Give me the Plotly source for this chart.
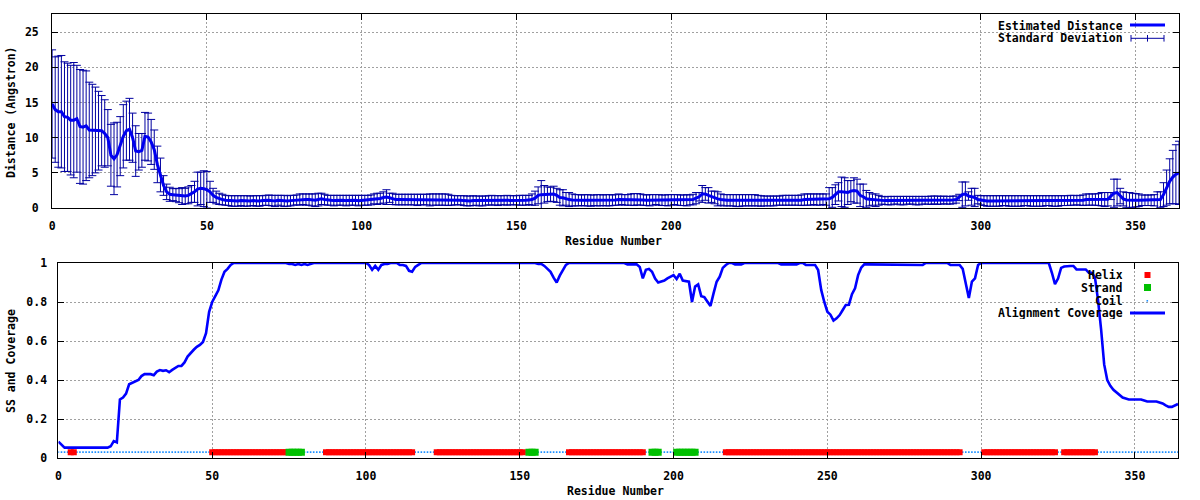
import plotly.graph_objects as go

# ---------------- data ----------------
# Estimated distance (Angstrom) per residue, residues 0..364
mean_distance = [
    14.8, 14.0, 13.7, 13.7, 13.0, 12.9, 12.5, 12.5, 12.7, 11.6,
    11.5, 11.7, 11.1, 11.1, 11.1, 11.0, 11.0, 10.6, 10.0, 7.5,
    7.0, 7.6, 8.8, 10.2, 11.0, 11.2, 10.0, 8.1, 8.0, 8.2,
    10.2, 10.1, 9.4, 8.3, 6.2, 4.7, 3.2, 2.3, 1.95, 1.9,
    1.85, 1.75, 1.7, 1.7, 1.8, 2.0, 2.3, 2.7, 2.8, 2.75,
    2.6, 2.3, 1.8, 1.5, 1.3, 1.2, 1.1, 1.05, 1.0, 1.0,
    1.0, 1.05, 1.0, 1.0, 1.0, 1.05, 1.0, 1.0, 1.05, 1.1,
    1.1, 1.05, 1.0, 1.1, 1.05, 1.0, 1.0, 1.05, 1.1, 1.15,
    1.2, 1.25, 1.2, 1.2, 1.15, 1.1, 1.2, 1.3, 1.2, 1.1,
    1.1, 1.05, 1.1, 1.1, 1.1, 1.05, 1.1, 1.1, 1.1, 1.05,
    1.1, 1.1, 1.1, 1.15, 1.3, 1.3, 1.35, 1.5, 1.55, 1.45,
    1.3, 1.2, 1.2, 1.2, 1.2, 1.2, 1.2, 1.2, 1.15, 1.2,
    1.2, 1.2, 1.15, 1.2, 1.2, 1.2, 1.2, 1.2, 1.15, 1.1,
    1.1, 1.1, 1.1, 1.05, 1.0, 1.0, 1.05, 1.05, 1.0, 1.0,
    1.05, 1.1, 1.1, 1.1, 1.05, 1.1, 1.1, 1.1, 1.1, 1.1,
    1.1, 1.1, 1.1, 1.1, 1.15, 1.2, 1.4, 1.8, 1.9, 1.95,
    1.95, 1.95, 2.0, 1.8, 1.5, 1.45, 1.3, 1.2, 1.15, 1.1,
    1.1, 1.1, 1.1, 1.1, 1.05, 1.1, 1.1, 1.1, 1.1, 1.1,
    1.1, 1.1, 1.15, 1.2, 1.2, 1.15, 1.15, 1.2, 1.2, 1.25,
    1.2, 1.15, 1.1, 1.1, 1.15, 1.2, 1.15, 1.1, 1.1, 1.1,
    1.15, 1.2, 1.15, 1.1, 1.1, 1.1, 1.15, 1.2, 1.4, 1.6,
    2.0, 2.0, 1.8, 1.6, 1.5, 1.3, 1.2, 1.1, 1.1, 1.1,
    1.1, 1.05, 1.05, 1.1, 1.1, 1.1, 1.1, 1.1, 1.05, 1.0,
    1.0, 1.0, 1.0, 1.0, 1.05, 1.05, 1.1, 1.1, 1.1, 1.1,
    1.1, 1.1, 1.1, 1.2, 1.2, 1.2, 1.25, 1.2, 1.2, 1.25,
    1.2, 1.3, 1.5, 1.9, 2.3, 2.3, 2.2, 2.2, 2.4, 2.5,
    2.4, 1.8, 1.6, 1.3, 1.25, 1.2, 1.1, 1.1, 1.1, 1.05,
    1.05, 1.05, 1.1, 1.1, 1.05, 1.05, 1.1, 1.1, 1.1, 1.05,
    1.05, 1.1, 1.1, 1.1, 1.1, 1.15, 1.1, 1.1, 1.15, 1.1,
    1.1, 1.15, 1.2, 1.5, 1.9, 2.0, 1.7, 1.6, 1.5, 1.2,
    1.1, 1.05, 1.0, 1.0, 1.0, 1.0, 1.0, 1.05, 1.05, 1.0,
    1.0, 1.0, 1.0, 1.0, 1.05, 1.05, 1.0, 1.0, 1.0, 1.0,
    1.0, 1.05, 1.05, 1.0, 1.0, 1.0, 1.05, 1.05, 1.05, 1.1,
    1.1, 1.1, 1.1, 1.1, 1.2, 1.2, 1.2, 1.2, 1.2, 1.25,
    1.2, 1.25, 1.7, 2.1, 2.2, 1.7, 1.3, 1.15, 1.1, 1.1,
    1.1, 1.1, 1.1, 1.1, 1.1, 1.1, 1.1, 1.1, 1.2, 1.9,
    2.9, 3.8, 4.4, 4.8, 5.0,
]

# Standard deviation per residue
std_distance = [
    7.7, 7.5, 7.9, 8.0, 7.8, 7.7, 7.8, 8.2, 7.6, 8.1,
    8.1, 7.8, 6.8, 6.5, 6.1, 5.6, 5.0, 4.8, 4.0, 4.4,
    5.1, 4.6, 4.2, 4.5, 4.2, 4.4, 3.5, 3.6, 2.6, 2.4,
    3.4, 3.4, 3.2, 2.8, 2.6, 2.4, 1.4, 1.1, 1.0, 0.85,
    0.95, 1.0, 1.2, 1.1, 1.2, 1.2, 1.5, 2.4, 2.3, 2.55,
    2.6, 1.5, 1.0, 0.9, 0.8, 0.75, 0.7, 0.7, 0.75, 0.75,
    0.75, 0.7, 0.75, 0.75, 0.7, 0.7, 0.75, 0.75, 0.7, 0.7,
    0.75, 0.75, 0.8, 0.7, 0.75, 0.8, 0.75, 0.75, 0.7, 0.7,
    0.8, 0.75, 0.8, 0.8, 0.85, 0.9, 0.9, 0.8, 0.75, 0.7,
    0.7, 0.75, 0.7, 0.7, 0.7, 0.75, 0.7, 0.7, 0.7, 0.75,
    0.7, 0.7, 0.7, 0.7, 0.7, 0.8, 0.75, 0.8, 1.05, 0.65,
    0.8, 0.75, 0.75, 0.75, 0.75, 0.75, 0.75, 0.75, 0.8, 0.75,
    0.75, 0.75, 0.85, 0.8, 0.8, 0.8, 0.8, 0.8, 0.8, 0.7,
    0.65, 0.65, 0.65, 0.7, 0.7, 0.7, 0.7, 0.65, 0.7, 0.7,
    0.65, 0.65, 0.7, 0.65, 0.7, 0.65, 0.65, 0.7, 0.65, 0.65,
    0.65, 0.7, 0.7, 0.7, 0.65, 0.8, 1.0, 1.2, 2.0, 1.25,
    1.05, 1.0, 1.1, 1.0, 1.1, 1.15, 0.9, 1.0, 0.85, 0.8,
    0.8, 0.75, 0.8, 0.8, 0.8, 0.75, 0.8, 0.8, 0.75, 0.8,
    0.8, 0.75, 0.75, 0.8, 0.7, 0.75, 0.75, 0.8, 0.85, 0.8,
    0.8, 0.75, 0.75, 0.8, 0.75, 0.7, 0.75, 0.75, 0.75, 0.8,
    0.75, 0.7, 0.75, 0.75, 0.75, 0.8, 0.7, 0.75, 0.8, 0.6,
    1.2, 0.9, 1.1, 0.8, 0.9, 1.0, 0.8, 0.8, 0.8, 0.8,
    0.8, 0.85, 0.85, 0.8, 0.8, 0.8, 0.8, 0.8, 0.75, 0.75,
    0.7, 0.7, 0.7, 0.7, 0.65, 0.65, 0.7, 0.7, 0.7, 0.7,
    0.7, 0.7, 0.75, 0.8, 0.8, 0.8, 0.75, 0.8, 0.8, 0.75,
    0.8, 1.6, 1.4, 1.4, 1.3, 2.1, 2.1, 1.7, 1.5, 1.8,
    1.7, 1.6, 1.8, 1.2, 0.95, 0.8, 0.9, 0.7, 0.55, 0.55,
    0.6, 0.6, 0.55, 0.55, 0.6, 0.6, 0.55, 0.55, 0.55, 0.6,
    0.6, 0.55, 0.55, 0.55, 0.6, 0.55, 0.6, 0.55, 0.55, 0.55,
    0.55, 0.55, 0.5, 0.45, 1.8, 1.7, 0.6, 1.2, 1.3, 0.6,
    0.65, 0.7, 0.75, 0.75, 0.75, 0.75, 0.75, 0.7, 0.7, 0.75,
    0.75, 0.75, 0.75, 0.75, 0.7, 0.7, 0.75, 0.75, 0.75, 0.75,
    0.75, 0.7, 0.7, 0.75, 0.75, 0.75, 0.7, 0.7, 0.7, 0.7,
    0.7, 0.65, 0.7, 0.75, 0.8, 0.8, 0.8, 0.8, 0.85, 0.95,
    1.0, 0.95, 0.5, 2.0, 1.9, 1.1, 1.0, 1.05, 1.1, 1.0,
    0.95, 0.9, 0.75, 0.75, 0.75, 0.75, 0.8, 1.2, 1.1, 1.7,
    2.5, 3.2, 3.8, 4.2, 4.5,
]

# Alignment coverage per residue
coverage = [
    0.084, 0.07, 0.053, 0.053, 0.053, 0.053, 0.053, 0.053, 0.053, 0.053,
    0.053, 0.053, 0.053, 0.053, 0.053, 0.053, 0.053, 0.06, 0.087, 0.08,
    0.30, 0.31, 0.33, 0.378, 0.386, 0.39, 0.40, 0.42, 0.43, 0.43,
    0.43, 0.425, 0.443, 0.451, 0.447, 0.45, 0.44, 0.452, 0.46, 0.472,
    0.472, 0.49, 0.52, 0.54, 0.555, 0.57, 0.58, 0.595, 0.64, 0.75,
    0.80, 0.83, 0.86, 0.915, 0.955, 0.97, 0.99, 1.0, 1.0, 1.0,
    1.0, 1.0, 1.0, 1.0, 1.0, 1.0, 1.0, 1.0, 1.0, 1.0,
    1.0, 1.0, 1.0, 1.0, 1.0, 0.995, 0.995, 0.99, 0.995, 0.99,
    0.995, 0.99, 0.995, 1.0, 1.0, 1.0, 1.0, 1.0, 1.0, 1.0,
    1.0, 1.0, 1.0, 1.0, 1.0, 1.0, 1.0, 1.0, 1.0, 1.0,
    1.0, 0.99, 0.965, 0.985, 0.965, 0.99, 0.995, 0.995, 1.0, 1.0,
    1.0, 0.99, 0.99, 0.985, 0.96, 0.955, 0.98, 0.99, 1.0, 1.0,
    1.0, 1.0, 1.0, 1.0, 1.0, 1.0, 1.0, 1.0, 1.0, 1.0,
    1.0, 1.0, 1.0, 1.0, 1.0, 1.0, 1.0, 1.0, 1.0, 1.0,
    1.0, 1.0, 1.0, 1.0, 1.0, 1.0, 1.0, 1.0, 1.0, 1.0,
    1.0, 1.0, 1.0, 1.0, 1.0, 1.0, 0.995, 0.995, 0.985, 0.97,
    0.955, 0.925, 0.90, 0.935, 0.96, 0.99, 1.0, 1.0, 1.0, 1.0,
    1.0, 1.0, 1.0, 1.0, 1.0, 1.0, 1.0, 1.0, 1.0, 1.0,
    1.0, 1.0, 1.0, 1.0, 1.0, 0.993, 0.993, 0.993, 0.993, 0.98,
    0.921, 0.965, 0.97, 0.955, 0.92, 0.90, 0.905, 0.91, 0.921, 0.928,
    0.938, 0.918, 0.945, 0.91, 0.905, 0.904, 0.80, 0.879, 0.89, 0.83,
    0.825, 0.80, 0.78, 0.844, 0.904, 0.93, 0.975, 0.99, 1.0, 1.0,
    0.993, 0.993, 0.993, 1.0, 1.0, 1.0, 1.0, 1.0, 1.0, 1.0,
    1.0, 1.0, 1.0, 1.0, 1.0, 0.993, 0.993, 0.993, 0.993, 0.993,
    0.993, 1.0, 1.0, 0.99, 0.99, 0.99, 0.99, 0.964, 0.862, 0.80,
    0.75, 0.735, 0.705, 0.716, 0.733, 0.759, 0.785, 0.786, 0.84, 0.87,
    0.938, 0.976, 0.993, 0.993, 0.993, 0.993, 0.993, 0.993, 0.993, 0.993,
    0.993, 0.99, 0.99, 0.99, 0.99, 0.99, 0.99, 0.99, 0.99, 0.99,
    0.99, 0.99, 1.0, 1.0, 1.0, 1.0, 1.0, 1.0, 1.0, 1.0,
    0.99, 0.99, 0.99, 0.99, 0.97, 0.887, 0.82, 0.905, 0.921, 0.99,
    1.0, 1.0, 1.0, 1.0, 1.0, 1.0, 1.0, 1.0, 1.0, 1.0,
    1.0, 1.0, 1.0, 1.0, 1.0, 1.0, 1.0, 1.0, 1.0, 1.0,
    1.0, 1.0, 1.0, 0.95, 0.892, 0.92, 0.975, 0.982, 0.985, 0.985,
    0.985, 0.967, 0.967, 0.967, 0.967, 0.95, 0.95, 0.926, 0.81, 0.66,
    0.48, 0.40, 0.37, 0.35, 0.335, 0.32, 0.31, 0.305, 0.30, 0.30,
    0.30, 0.30, 0.30, 0.295, 0.29, 0.29, 0.29, 0.29, 0.285, 0.28,
    0.27, 0.262, 0.262, 0.27, 0.277,
]

# Secondary structure segments (first, last residue)
helix_segments = [(4, 5), (50, 74), (87, 115), (123, 151), (166, 190),
                  (217, 293), (301, 324), (327, 337)]
strand_segments = [(75, 79), (153, 155), (193, 195), (201, 207)]
ss_track_value = 0.03

x_ticks_top = [0, 50, 100, 150, 200, 250, 300, 350]
y_ticks_top = [0, 5, 10, 15, 20, 25]
y_ticks_bottom = [0, 0.2, 0.4, 0.6, 0.8, 1]

if not (len(mean_distance) == len(std_distance) == len(coverage)):
    raise SystemExit("length mismatch %d %d %d" % (len(mean_distance), len(std_distance), len(coverage)))

residues = list(range(len(mean_distance)))

helix_res = [r for a, b in helix_segments for r in range(a, b + 1)]
strand_res = [r for a, b in strand_segments for r in range(a, b + 1)]
coil_res = [r for r in residues if r not in helix_res and r not in strand_res]

# ---------------- styling ----------------
W, H = 1200, 500
FONT = dict(family="DejaVu Sans Mono", size=11.5, color="black", weight="bold")
ERR_COLOR = "#0000a0"
LINE_COLOR = "#0000f0"
GRID_COLOR = "#a0a0a0"


def px(x):
    return x / W


def py(y):
    return 1 - y / H


fig = go.Figure()

# top panel
fig.add_trace(go.Scatter(
    x=residues, y=mean_distance, mode="markers",
    marker=dict(size=1, color=ERR_COLOR),
    error_y=dict(type="data", array=std_distance, visible=True,
                 color=ERR_COLOR, thickness=1, width=4),
    xaxis="x", yaxis="y", showlegend=False, hoverinfo="skip"))
fig.add_trace(go.Scatter(
    x=residues, y=mean_distance, mode="lines",
    line=dict(color=LINE_COLOR, width=3),
    xaxis="x", yaxis="y", showlegend=False, name="Estimated Distance"))

# bottom panel
fig.add_trace(go.Scatter(
    x=coil_res, y=[ss_track_value] * len(coil_res), mode="markers",
    marker=dict(symbol="square", size=1.6, color="#1e90ff", line=dict(width=0)),
    xaxis="x2", yaxis="y2", showlegend=False, name="Coil"))
fig.add_trace(go.Scatter(
    x=helix_res, y=[ss_track_value] * len(helix_res), mode="markers",
    marker=dict(symbol="square", size=6, color="#ff0000", line=dict(width=0)),
    xaxis="x2", yaxis="y2", showlegend=False, name="Helix"))
fig.add_trace(go.Scatter(
    x=strand_res, y=[ss_track_value] * len(strand_res), mode="markers",
    marker=dict(symbol="square", size=7, color="#00c000", line=dict(width=0)),
    xaxis="x2", yaxis="y2", showlegend=False, name="Strand"))
fig.add_trace(go.Scatter(
    x=residues, y=coverage, mode="lines",
    line=dict(color="#0000ff", width=2.6),
    xaxis="x2", yaxis="y2", showlegend=False, name="Alignment Coverage"))

axis_common = dict(
    showline=True, linecolor="black", linewidth=1, mirror="ticks",
    ticks="inside", ticklen=6, tickcolor="black", tickwidth=1,
    showgrid=True, gridcolor=GRID_COLOR, griddash="2px,2px", gridwidth=1,
    zeroline=False, tickfont=FONT, automargin=False,
)

fig.update_layout(
    width=W, height=H,
    margin=dict(l=0, r=0, t=0, b=0, pad=0, autoexpand=False),
    paper_bgcolor="white", plot_bgcolor="white", showlegend=False,
    xaxis=dict(domain=[px(52.1), px(1179)], range=[0, 364], anchor="y",
               tickvals=x_ticks_top, ticklabelstandoff=7, **axis_common),
    yaxis=dict(domain=[py(208), py(14)], range=[0, 27.6], anchor="x",
               tickvals=y_ticks_top, ticklabelstandoff=10, **axis_common),
    xaxis2=dict(domain=[px(58.4), px(1178)], range=[0, 364], anchor="y2",
                tickvals=x_ticks_top, ticklabelstandoff=7, **axis_common),
    yaxis2=dict(domain=[py(458), py(263)], range=[0, 1], anchor="x2",
                tickvals=y_ticks_bottom, ticklabelstandoff=8, **axis_common),
)

# axis titles
annotations = [
    dict(text="Residue Number", x=px(613), y=py(241)),
    dict(text="Residue Number", x=px(615), y=py(491)),
    dict(text="Distance (Angstron)", x=px(11), y=py(112), textangle=-90),
    dict(text="SS and Coverage", x=px(11), y=py(361), textangle=-90),
]
# key texts (right aligned, gnuplot style)
key_texts = [("Estimated Distance", 25.5), ("Standard Deviation", 38.3),
             ("Helix", 275), ("Strand", 288), ("Coil", 301),
             ("Alignment Coverage", 313)]
for t, yy in key_texts:
    annotations.append(dict(text=t, x=px(1124), y=py(yy), xanchor="right", height=12))

fig.update_layout(annotations=[
    dict(xref="paper", yref="paper", showarrow=False, font=FONT,
         xanchor=a.get("xanchor", "center"), yanchor="middle", borderpad=0,
         height=a.get("height"),
         x=a["x"], y=a["y"], text=a["text"], textangle=a.get("textangle", 0))
    for a in annotations
])

# key samples
shapes = []
def seg(x0, y0, x1, y1, color, width):
    shapes.append(dict(type="line", xref="paper", yref="paper",
                       x0=px(x0), y0=py(y0), x1=px(x1), y1=py(y1),
                       line=dict(color=color, width=width)))

def box(cx, cy, w, h, color):
    shapes.append(dict(type="rect", xref="paper", yref="paper",
                       x0=px(cx - w / 2), x1=px(cx + w / 2),
                       y0=py(cy + h / 2), y1=py(cy - h / 2),
                       fillcolor=color, line=dict(width=0)))

seg(1130, 25, 1165, 25, "#0000ff", 3)
seg(1131, 38.3, 1164, 38.3, ERR_COLOR, 1)
for xx in (1131, 1147.5, 1164):
    seg(xx, 35, xx, 41.6, ERR_COLOR, 1)
box(1147.5, 275, 6, 6, "#ff0000")
box(1147.5, 287.5, 7, 7, "#00c000")
box(1147.3, 300.8, 1.6, 1.6, "#1e90ff")
seg(1130, 313, 1165, 313, "#0000ff", 3)

fig.update_layout(shapes=shapes)

fig.write_html("out.html",
               config={"displayModeBar": False},
               post_script="document.body.style.margin='0px';document.body.style.overflow='hidden';")
